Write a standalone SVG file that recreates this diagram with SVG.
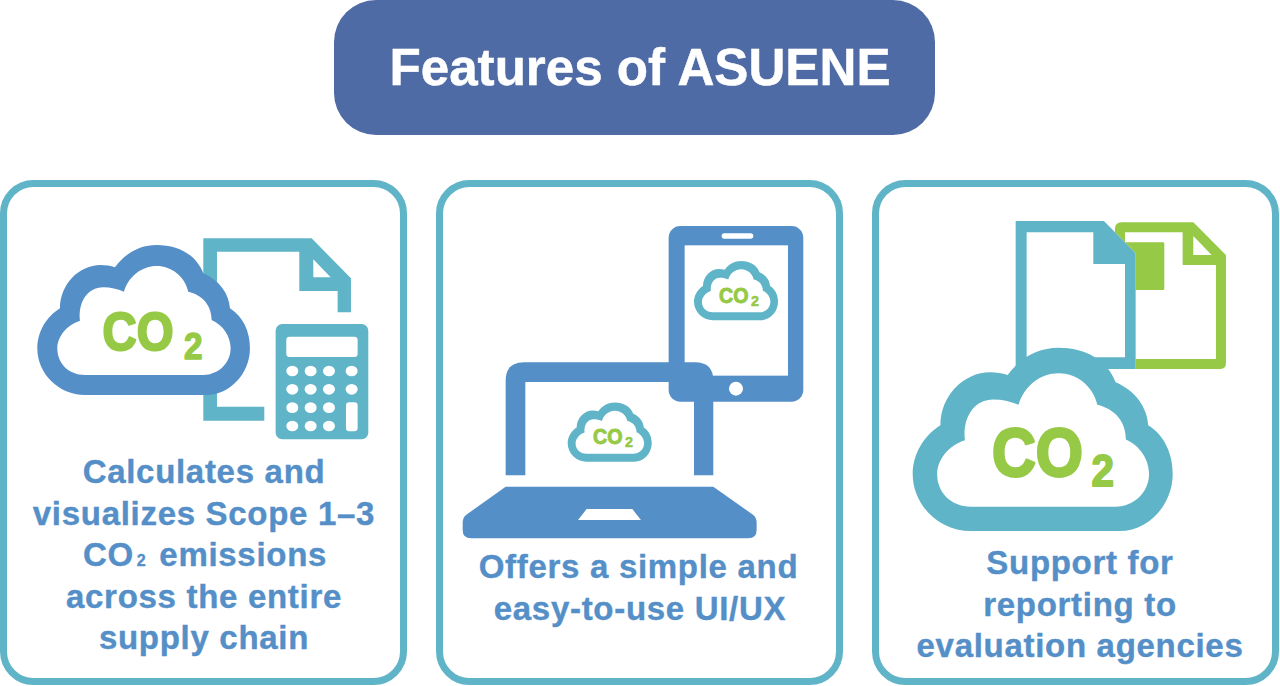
<svg xmlns="http://www.w3.org/2000/svg" width="1280" height="686" viewBox="0 0 1280 686">
<style>
text{font-family:"Liberation Sans",Arial,sans-serif;font-weight:700}
.card{fill:#fff;stroke:#60b4c8;stroke-width:7}
.lbl{fill:#558fc8;stroke:#558fc8;stroke-width:.4;font-size:33px;text-anchor:middle;letter-spacing:.7px}
.co{fill:#96c945;stroke:#96c945;stroke-linejoin:round}
.teal{fill:#60b4c8}
.blue{fill:#558fc8}
.green{fill:#96c945}
.w{fill:#fff}
</style>
<defs>
<path id="cloudO" d="M143 450C64 450 0 386 0 310C0 260 28 215 68 190C68 118 125 60 190 60C205 60 220 62 233 67C263 25 308 0 358 0C423 0 478 30 498 85C545 105 575 145 578 190C618 215 638 260 638 310C638 386 578 450 508 450Z"/>
<path id="cloudI" d="M143 390C93 390 60 355 60 310C60 275 88 240 128 227C122 172 150 127 198 127C220 127 240 132 260 140C273 95 313 63 358 63C403 63 443 95 453 140C495 150 523 180 523 225C558 240 580 275 580 310C580 355 543 390 498 390Z"/>
</defs>
<rect width="1280" height="686" fill="#fff"/>
<g id="title">
<rect x="334" y="0" width="601" height="135" rx="42" fill="#4f6ba5"/>
<text x="640" y="85" fill="#fff" stroke="#fff" stroke-width=".5" font-size="52" text-anchor="middle" textLength="501" lengthAdjust="spacingAndGlyphs">Features of ASUENE</text>
</g>
<g id="card1">
<rect class="card" x="3.500" y="183.500" width="400" height="498" rx="30"/>
<g transform="translate(0 180) scale(.3333)">
<path class="teal" fill-rule="evenodd" d="M610 175H935L1053 295V397H1013V333H898V215H651V680H793V722H610ZM940 238L992 292H940Z"/>
<rect class="teal" x="827" y="432" width="278" height="346" rx="20"/>
<rect class="w" x="859" y="470" width="214" height="61" rx="10"/>
<g class="w">
<ellipse cx="877" cy="573" rx="18" ry="16"/><ellipse cx="932" cy="573" rx="18" ry="16"/><ellipse cx="987" cy="573" rx="18" ry="16"/><ellipse cx="1055" cy="573" rx="18" ry="16"/>
<ellipse cx="877" cy="628" rx="18" ry="16"/><ellipse cx="932" cy="628" rx="18" ry="16"/><ellipse cx="987" cy="628" rx="18" ry="16"/><ellipse cx="1055" cy="628" rx="18" ry="16"/>
<ellipse cx="877" cy="683" rx="18" ry="16"/><ellipse cx="932" cy="683" rx="18" ry="16"/><ellipse cx="987" cy="683" rx="18" ry="16"/>
<ellipse cx="877" cy="738" rx="18" ry="16"/><ellipse cx="932" cy="738" rx="18" ry="16"/><ellipse cx="987" cy="738" rx="18" ry="16"/>
<rect x="1038" y="667" width="35" height="87" rx="10"/>
</g>
</g>
<g transform="translate(37.300 245) scale(.3333)"><use href="#cloudO" class="blue"/><use href="#cloudI" class="w"/></g>
<text class="co" x="102.500" y="350" font-size="53" stroke-width="2.200" textLength="71" lengthAdjust="spacingAndGlyphs">CO</text>
<text class="co" x="184" y="358.500" font-size="36" stroke-width="1.500" textLength="18.500" lengthAdjust="spacingAndGlyphs">2</text>
<text class="lbl" x="204" y="483">Calculates and</text>
<text class="lbl" x="204" y="524.500">visualizes Scope 1–3</text>
<text class="lbl" x="205" y="566">CO<tspan font-size="16" dx="3">2</tspan><tspan dx="3"> emissions</tspan></text>
<text class="lbl" x="204" y="607.500">across the entire</text>
<text class="lbl" x="204" y="649">supply chain</text>
</g>
<g id="card2">
<rect class="card" x="439.500" y="183.500" width="400" height="498" rx="30"/>
<g transform="translate(440 210) scale(.3333)">
<rect class="blue" x="686" y="48" width="404" height="527" rx="35"/>
<rect class="w" x="734" y="106" width="310" height="391"/>
<rect class="w" x="845" y="70" width="95" height="16" rx="8"/>
<circle class="w" cx="888" cy="536" r="21"/>
<path class="blue" fill-rule="evenodd" d="M197 796V512Q197 457 252 457H765Q820 457 820 512V796H762V516H256V796Z"/>
<path class="blue" d="M197 830H820L940 915Q950 922 950 940V960Q950 985 925 985H93Q68 985 68 960V940Q68 922 78 915Z"/>
<path class="w" d="M440 897H577L603 930H414Z"/>
</g>
<g transform="translate(694 261) scale(.1317)"><use href="#cloudO" class="teal"/><use href="#cloudI" class="w"/></g>
<text class="co" x="719" y="302.500" font-size="21.500" stroke-width=".9" textLength="29.500" lengthAdjust="spacingAndGlyphs">CO</text>
<text class="co" x="751" y="306" font-size="14" stroke-width=".5" textLength="8" lengthAdjust="spacingAndGlyphs">2</text>
<g transform="translate(567.700 402.500) scale(.1317)"><use href="#cloudO" class="teal"/><use href="#cloudI" class="w"/></g>
<text class="co" x="593" y="443.500" font-size="21.500" stroke-width=".9" textLength="29.500" lengthAdjust="spacingAndGlyphs">CO</text>
<text class="co" x="625" y="447.300" font-size="14" stroke-width=".5" textLength="8" lengthAdjust="spacingAndGlyphs">2</text>
<text class="lbl" x="638.500" y="578">Offers a simple and</text>
<text class="lbl" x="640" y="620">easy-to-use UI/UX</text>
</g>
<g id="card3">
<rect class="card" x="875.500" y="183.500" width="400" height="498" rx="30"/>
<g transform="translate(880 200) scale(.3333)">
<path class="green" fill-rule="evenodd" d="M725 67H940L1038 165V490Q1038 507 1021 507H725Q705 507 705 490V87Q705 67 725 67ZM735 97V477H1008V195H908V97ZM940 108L995 165H940Z"/>
<rect class="green" x="700" y="127" width="153" height="143" rx="4"/>
<path class="w" d="M407 63H672L767 160V507H407Z"/>
<path class="teal" fill-rule="evenodd" d="M407 63H672L767 160V507H407ZM440 97V472H735V192H640V97Z"/>
</g>
<g transform="translate(912.700 347.700) scale(.4075)"><use href="#cloudO" class="teal"/><use href="#cloudI" class="w"/></g>
<text class="co" x="992" y="476" font-size="68" stroke-width="2.800" textLength="91" lengthAdjust="spacingAndGlyphs">CO</text>
<text class="co" x="1091.500" y="486" font-size="45" stroke-width="1.800" textLength="22.500" lengthAdjust="spacingAndGlyphs">2</text>
<text class="lbl" x="1080" y="574">Support for</text>
<text class="lbl" x="1080" y="615.500">reporting to</text>
<text class="lbl" x="1080" y="657">evaluation agencies</text>
</g>
<g id="connectors"/>
</svg>
